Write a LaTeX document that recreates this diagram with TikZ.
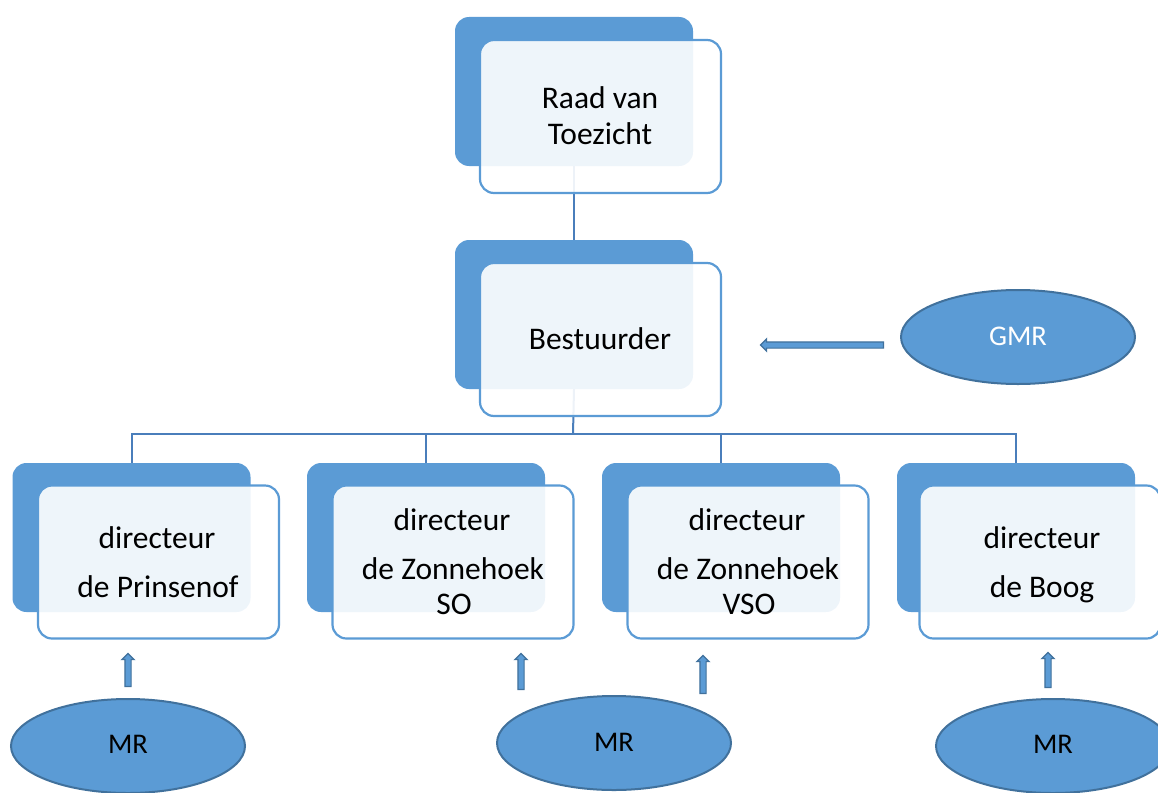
\documentclass[tikz,border=0pt]{standalone}
\usepackage{fontspec}
\setmainfont{Carlito}
\usetikzlibrary{shapes.geometric,shapes.arrows}
\definecolor{accent}{HTML}{5B9BD5}
\definecolor{edgeblue}{HTML}{41719C}
\definecolor{connblue}{HTML}{4A7EBB}
\begin{document}
\begin{tikzpicture}[x=1pt,y=-1pt,
  backbox/.style={rectangle, rounded corners=14pt, fill=accent, draw=none, minimum width=238pt, minimum height=149pt, inner sep=0pt},
  frontbox/.style={rectangle, rounded corners=14pt, fill=white, fill opacity=0.9, draw=accent, draw opacity=1, line width=2.2pt, minimum width=241pt, minimum height=153pt, inner sep=0pt},
  conn/.style={draw=connblue, line width=2pt},
  lbl/.style={anchor=base, font=\fontsize{31.5}{36}\selectfont, inner sep=0pt, text=black},
  oval/.style={ellipse, fill=accent, draw=edgeblue, line width=2pt, minimum width=234pt, minimum height=94pt, inner sep=0pt},
  olbl/.style={anchor=base, font=\fontsize{28.5}{32}\selectfont, inner sep=0pt},
  blockarrow/.style={single arrow, draw=edgeblue, fill=accent, line width=1.2pt, minimum width=0pt, single arrow head extend=3pt, inner sep=0pt, font=\fontsize{1}{1}\selectfont}
]
\useasboundingbox (0,0) rectangle (1158,792);
\clip (0,0) rectangle (1158,792);
% back boxes
\node[backbox] (rb) at (574,91.5) {};
\node[backbox] (bb) at (574,314.5) {};
\node[backbox] (b1) at (131.5,537.5) {};
\node[backbox] (b2) at (426,537.5) {};
\node[backbox] (b3) at (721,537.5) {};
\node[backbox] (b4) at (1016,537.5) {};
% connectors
\coordinate (hub) at (573,434);
\draw[conn] (rb.south) -- (bb.north);
\draw[conn] (bb.south) -- (hub);
\draw[conn] (b1.north) |- (hub);
\draw[conn] (b2.north) |- (hub);
\draw[conn] (b3.north) |- (hub);
\draw[conn] (b4.north) |- (hub);
% front boxes
\node[frontbox] (rf) at (600.5,116.5) {};
\node[frontbox] (bf) at (600.5,339.5) {};
\node[frontbox] (f1) at (158.5,562) {};
\node[frontbox] (f2) at (453,562) {};
\node[frontbox] (f3) at (748,562) {};
\node[frontbox] (f4) at (1040,562) {};
% labels
\node[lbl] (t1a) at (600,108) {Raad van};
\node[lbl] (t1b) at (600,144) {Toezicht};
\node[lbl] (t2) at (600,349) {Bestuurder};
\node[lbl] (t3a) at (157,548) {directeur};
\node[lbl] (t3b) at (158,597) {de Prinsenof};
\node[lbl] (t4a) at (452,530) {directeur};
\node[lbl] (t4b) at (453,579) {de Zonnehoek};
\node[lbl] (t4c) at (454,614) {SO};
\node[lbl] (t5a) at (747,530) {directeur};
\node[lbl] (t5b) at (748,579) {de Zonnehoek};
\node[lbl] (t5c) at (749,614) {VSO};
\node[lbl] (t6a) at (1042,548) {directeur};
\node[lbl] (t6b) at (1042,597) {de Boog};
% ellipses
\node[oval] (gmr) at (1018,337) {};
\node[olbl, text=white] (gmrt) at (1018,345) {GMR};
\node[oval] (mr1) at (128,746) {};
\node[olbl, text=black] (mr1t) at (128,753) {MR};
\node[oval] (mr2) at (614,743) {};
\node[olbl, text=black] (mr2t) at (614,751) {MR};
\node[oval] (mr3) at (1053,746) {};
\node[olbl, text=black] (mr3t) at (1053,753) {MR};
% block arrows
\node[blockarrow, minimum height=123pt, rotate=180] (ag) at (823.5,345) {\rule{0pt}{5pt}};
\node[blockarrow, minimum height=33pt, rotate=90] (a1) at (128,671.5) {\rule{0pt}{5pt}};
\node[blockarrow, minimum height=36pt, rotate=90] (a2) at (521,673) {\rule{0pt}{5pt}};
\node[blockarrow, minimum height=38pt, rotate=90] (a3) at (703,676) {\rule{0pt}{5pt}};
\node[blockarrow, minimum height=35pt, rotate=90] (a4) at (1048,671.5) {\rule{0pt}{5pt}};
\end{tikzpicture}
\end{document}
